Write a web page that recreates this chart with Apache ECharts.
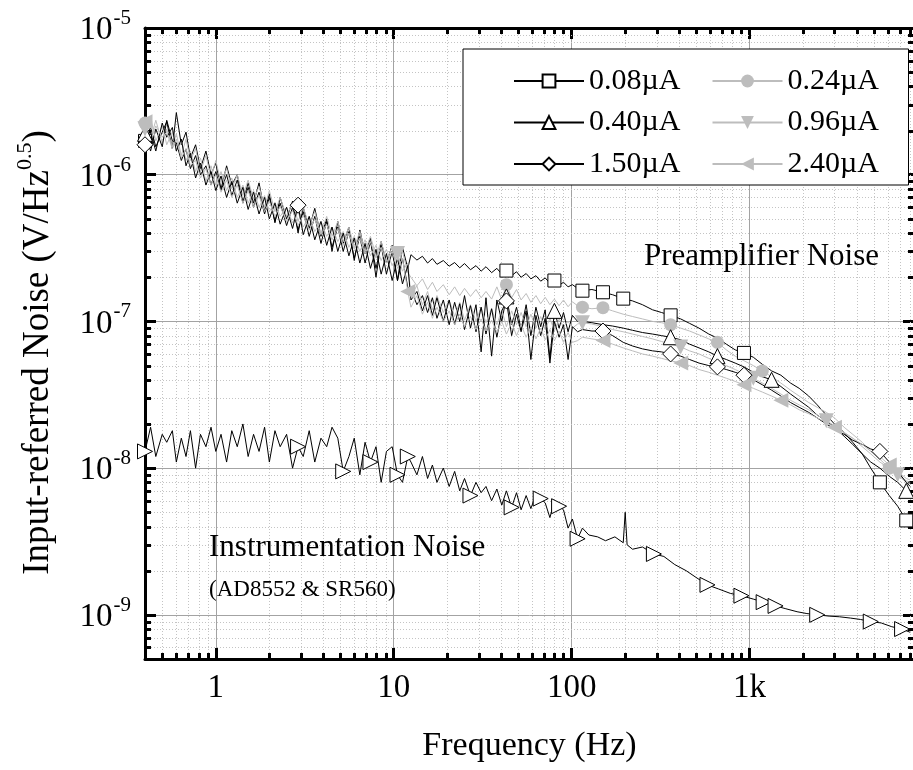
<!DOCTYPE html>
<html><head><meta charset="utf-8">
<script src="https://cdn.jsdelivr.net/npm/echarts@6/dist/echarts.min.js"></script>
<style>html,body{margin:0;padding:0;background:#fff}#c{width:913px;height:770px}</style>
</head><body><div id="c"></div>
<script>
// ---------- data (noise values in nV/Hz^0.5, frequency in Hz) ----------
const freqPre = [
 0.4,0.43,0.46,0.5,0.53,0.57,0.6,0.64,0.68,0.72,
 0.77,0.82,0.88,0.94,1.0,1.07,1.15,1.23,1.32,1.42,
 1.52,1.63,1.75,1.88,2.0,2.15,2.3,2.5,2.7,2.9,
 3.1,3.35,3.6,3.9,4.2,4.5,4.85,5.2,5.6,6.0,
 6.45,6.9,7.4,7.95,8.5,9.1,9.8,10.5,11.2,12.0,
 12.5,13.5,14.5,15.5,16.5,17.5,19,20.5,22,23.5,
 25,27,29,31,33,35.5,38,40.5,43,46,
 49,52,55.5,59,63,67,71,75.5,80,85,
 90,95.5,101,108,
 115,130,150,170,195,220,250,285,320,360,
 410,460,520,590,660,740,830,930,1050,1180,
 1330,1500,1700,1900,2150,2400,2700,3000,3400,3800,
 4300,4800,5400,6100,6800,7600,8000];

const n008 = [
 1700,2100,1550,1950,2300,1500,2650,1600,1950,1300,
 1600,1100,1450,1000,1200,800,1150,850,1000,650,
 880,640,880,560,740,470,700,500,660,400,
 600,430,590,380,500,300,480,340,440,260,
 420,290,370,200,350,250,330,190,320,230,
 285,262,278,250,268,245,260,238,252,232,
 248,225,240,220,236,215,230,210,222,205,
 218,200,212,195,205,188,198,182,190,176,
 185,172,178,168,
 162,165,158,152,143,138,130,120,115,110,
 104,97,90,82,77,70,64,61,57,51,
 46,43,38,35,31,27,23,20,17.5,15,
 12.5,10,8,6.5,5.5,4.4,4.3];

const n024 = [
 2250,1750,2350,1650,2050,1550,1900,1350,1750,1250,
 1500,1050,1350,950,1250,880,1100,800,1000,720,
 920,680,830,600,780,560,700,520,650,480,
 600,450,560,400,520,380,480,350,440,320,
 410,300,380,280,350,260,320,240,300,215,
 200,175,195,165,185,160,178,152,172,150,
 168,148,165,145,160,142,172,140,178,145,
 165,140,155,135,150,132,146,130,142,128,
 140,126,136,128,
 125,122,124,118,112,108,104,100,98,95,
 90,86,81,76,72,64,58,54,50,46,
 42,38,34,31,28,26,24,22,19,17,
 15,13,11.5,10,9,8.2,8];

const n040 = [
 1900,1450,2050,1550,2350,1700,1650,1250,1500,1100,
 1350,1000,1150,850,1050,780,1000,720,920,640,
 820,600,760,540,700,480,640,450,600,420,
 560,380,520,340,480,320,440,300,410,270,
 380,250,350,230,330,210,300,190,270,170,
 165,130,150,115,145,105,140,95,135,100,
 150,90,130,62,145,58,140,100,148,95,
 125,88,130,80,125,92,120,56,118,90,
 115,85,110,100,
 100,98,95,93,90,87,84,82,80,78,
 75,70,66,62,58,55,52,49,45,42,
 40,36,32,29,26,23,21,19,16.5,14.5,
 12.5,11,10,8.8,8,7,7];

const n096 = [
 2050,2450,1700,2150,1600,1950,1450,1700,1250,1450,
 1050,1300,900,1150,850,1050,780,950,700,850,
 640,780,600,720,560,650,520,600,470,560,
 440,520,410,480,380,440,350,410,320,380,
 300,360,280,330,260,310,240,290,220,250,
 150,175,130,160,120,150,115,140,108,135,
 102,130,100,125,98,122,95,120,92,118,
 95,115,92,112,90,108,88,105,86,104,
 92,100,90,96,
 98,96,92,88,85,82,79,76,73,70,
 67,63,60,56,53,50,47,44,41,38,
 35,32,29,27,25,23,21,19.5,17.5,16,
 14,12.5,11,10,9,8,7.8];

const n150 = [
 1600,1950,1450,2250,1800,2100,1450,1750,1150,1400,
 950,1200,850,1050,780,980,700,900,640,820,
 580,760,540,700,500,640,460,600,430,620,
 390,520,360,480,330,440,300,400,280,370,
 250,340,230,310,210,290,190,270,180,240,
 140,160,118,150,110,145,100,140,95,132,
 88,128,85,125,82,122,78,118,138,80,
 112,85,118,55,110,80,105,52,100,78,
 95,55,92,85,
 88,86,86,80,72,68,65,63,62,60,
 58,55,52,50,49,47,45,43,40,37,
 34,31,28,26,24,22,20,18.5,17,15.5,
 14.5,13.5,13,11,9.5,8,7.5];

const n240 = [
 2300,1700,2150,1800,1950,1500,1750,1300,1500,1150,
 1250,950,1100,850,1000,760,920,700,850,640,
 780,600,720,560,660,520,610,480,570,450,
 530,420,500,390,460,360,430,330,400,310,
 370,290,350,270,320,250,300,230,270,160,
 125,150,112,135,105,125,100,118,95,112,
 92,108,88,104,86,102,84,100,82,98,
 80,95,78,92,76,90,75,88,74,86,
 72,84,72,74,
 78,76,74,70,66,63,60,58,56,54,
 52,50,47,45,43,41,39,37,35,33,
 31,29,27,25,23.5,22,20.5,19,17.5,16,
 14.5,13,12,10.5,9.5,8.5,8.3];

const freqInst = [
 0.4,0.43,0.46,0.5,0.53,0.57,0.6,0.64,0.68,0.72,
 0.77,0.82,0.88,0.94,1.0,1.07,1.15,1.23,1.32,1.42,
 1.52,1.63,1.75,1.88,2.0,2.15,2.3,2.5,2.7,2.9,
 3.1,3.35,3.6,3.9,4.2,4.5,4.85,5.2,5.6,6.0,
 6.45,6.9,7.4,7.95,8.5,9.1,9.8,10.5,11.2,12.0,
 12.5,13.5,14.5,15.5,16.5,17.5,19,20.5,22,23.5,
 25,27,29,31,33,35.5,38,40.5,43,46,
 49,52,55.5,59,63,67,71,75.5,80,85,
 90,95.5,101,108,
 115,125,140,155,175,195,200,205,220,250,
 290,330,380,440,500,580,670,780,900,1050,
 1200,1400,1600,1850,2100,2400,2800,3200,3700,4200,
 4800,5500,6300,7200,8000];

const nInst = [
 13,19,12,17,15,18,11,16,12,18,
 10,17,14,19,13,17,11,18,14,20,
 12,17,13,19,11,18,14,17,10,14,
 12,18,11,16,14,19,16,9.5,12,16,
 9,15,11,14,8,13,14,9,8,12,
 11,9,12,8.5,10.5,8,10,7.5,9.5,7,
 8.5,6.5,8,6.8,7.5,6,7.2,5.6,7,5.4,
 6.8,5.2,6.5,5.3,6.6,6.2,5.8,4.6,6,5.5,
 5.2,3.9,4.5,3.3,
 3.9,3.5,3.4,3.2,3.4,3.1,5,3.0,2.8,2.9,
 2.6,2.5,2.2,2.0,1.8,1.6,1.5,1.4,1.35,1.28,
 1.22,1.15,1.1,1.05,1.02,1.0,0.98,0.97,0.95,0.93,
 0.9,0.88,0.83,0.8,0.76];

// frequencies at which markers are drawn
const mk008 = [0.4,43,80,115,150,195,360,930,5400,7600];
const mk024 = [0.4,43,115,150,360,660,1180,6100];
const mk040 = [0.4,43,80,360,660,1330,7600];
const mk096 = [0.4,10.5,115,410,1050,2700,6800];
const mk150 = [0.4,2.9,43,150,360,660,930,5400];
const mk240 = [0.4,12.0,150,410,930,1500,3000,6100];
const mkInst = [0.4,2.9,5.2,7.4,10.5,12.0,27,46,67,85,108,290,580,900,1200,1400,2400,4800,7200];

const seriesNames = ['0.08µA','0.24µA','0.40µA','0.96µA','1.50µA','2.40µA'];
const xTickText = {'0':'1','1':'10','2':'100','3':'1k'};
const mantissas = [2,3,4,5,6,7,8,9];
const xMinor = [0.5,0.6,0.7,0.8,0.9];
[1,10,100,1000].forEach(d => mantissas.forEach(m => { if (m*d <= 8400) xMinor.push(m*d); }));
const yMinor = [6e-10,7e-10,8e-10,9e-10];
[1e-9,1e-8,1e-7,1e-6].forEach(d => mantissas.forEach(m => yMinor.push(m*d)));

// ---------- chart ----------
const FONT = '"Liberation Serif","Times New Roman",serif';
const GRAY = '#bdbdbd';
const XMIN = 0.4, XMAX = 8400, YMIN = 5e-10, YMAX = 1e-5;

function preSeries(name, freq, vals, marks, symbol, rotate, size, hollow) {
  const mk = new Set(marks);
  const col = hollow ? '#000' : GRAY;
  return {
    name: name, type: 'line', xAxisIndex: 0, yAxisIndex: 0,
    data: freq.map((f, i) => [f, vals[i] * 1e-9]),
    symbol: symbol, symbolRotate: rotate, showSymbol: true,
    symbolSize: (v, p) => mk.has(freq[p.dataIndex]) ? size : 0,
    lineStyle: {color: col, width: 1},
    itemStyle: hollow ? {color: '#fff', borderColor: '#000', borderWidth: 1} : {color: GRAY, borderWidth: 0},
    emphasis: {disabled: true}, silent: true, z: 3, clip: true
  };
}

function minorX(params, api) {
  const cs = params.coordSys;
  const x = Math.round(api.coord([api.value(0), 1e-7])[0]) + 0.5;
  const y0 = cs.y, y1 = cs.y + cs.height;
  return {type: 'group', children: [
    {type: 'line', shape: {x1: x, y1: y0, x2: x, y2: y1}, style: {stroke: '#c4c4c4', lineWidth: 1, lineDash: [1, 2]}},
    {type: 'line', shape: {x1: x, y1: y1, x2: x, y2: y1 - 6}, style: {stroke: '#000', lineWidth: 3}},
    {type: 'line', shape: {x1: x, y1: y0, x2: x, y2: y0 + 6}, style: {stroke: '#000', lineWidth: 3}}
  ]};
}
function minorY(params, api) {
  const cs = params.coordSys;
  const y = Math.round(api.coord([1, api.value(1)])[1]) + 0.5;
  const x0 = cs.x, x1 = cs.x + cs.width;
  return {type: 'group', children: [
    {type: 'line', shape: {x1: x0, y1: y, x2: x1, y2: y}, style: {stroke: '#c4c4c4', lineWidth: 1, lineDash: [1, 2]}},
    {type: 'line', shape: {x1: x0, y1: y, x2: x0 + 6, y2: y}, style: {stroke: '#000', lineWidth: 3}},
    {type: 'line', shape: {x1: x1, y1: y, x2: x1 - 6, y2: y}, style: {stroke: '#000', lineWidth: 3}}
  ]};
}

function isDecade(v) { const e = Math.log10(v); return Math.abs(e - Math.round(e)) < 1e-6; }

const axisLineStyle = {color: '#000', width: 3};
const majorTick = {show: true, inside: true, length: 11, lineStyle: {color: '#000', width: 3}};

const option = {
  animation: false,
  backgroundColor: '#fff',
  grid: {left: 145, right: -1, top: 28, bottom: 111, containLabel: false, outerBoundsMode: 'none'},
  xAxis: [{
    type: 'log', logBase: 10, min: XMIN, max: XMAX,
    axisLine: {show: true, onZero: false, lineStyle: axisLineStyle},
    axisTick: majorTick,
    axisLabel: {show: true, fontFamily: FONT, fontSize: 33, color: '#000', margin: 13,
      showMinLabel: false, showMaxLabel: false,
      formatter: v => isDecade(v) ? (xTickText[String(Math.round(Math.log10(v)))] || '') : ''},
    splitLine: {show: true, lineStyle: {color: '#a3a3a3', width: 1}},
    name: 'Frequency (Hz)', nameLocation: 'middle', nameGap: 70,
    nameTextStyle: {fontFamily: FONT, fontSize: 34, color: '#000'}
  }, {
    type: 'log', logBase: 10, min: XMIN, max: XMAX, position: 'top',
    axisLine: {show: true, onZero: false, lineStyle: axisLineStyle},
    axisTick: majorTick, axisLabel: {show: false}, splitLine: {show: false}
  }],
  yAxis: [{
    type: 'log', logBase: 10, min: YMIN, max: YMAX,
    axisLine: {show: true, onZero: false, lineStyle: axisLineStyle},
    axisTick: majorTick,
    axisLabel: {show: true, margin: 14, showMinLabel: false,
      formatter: v => isDecade(v) ? '{b|10}{s|' + Math.round(Math.log10(v)) + '}' : '',
      rich: {
        b: {fontFamily: FONT, fontSize: 33, color: '#000', lineHeight: 38, verticalAlign: 'bottom'},
        s: {fontFamily: FONT, fontSize: 21, color: '#000', lineHeight: 21, verticalAlign: 'bottom', padding: [0, 0, 18, 1]}
      }},
    splitLine: {show: true, lineStyle: {color: '#a3a3a3', width: 1}},
    name: '{a|Input-referred Noise (V/Hz}{s|0.5}{a|)}', nameLocation: 'middle', nameGap: 88,
    nameTextStyle: {padding: [0, 18, 0, 0], rich: {
      a: {fontFamily: FONT, fontSize: 37, color: '#000', lineHeight: 41, verticalAlign: 'bottom'},
      s: {fontFamily: FONT, fontSize: 22, color: '#000', lineHeight: 22, verticalAlign: 'bottom', padding: [0, 0, 21, 0]}
    }}
  }, {
    type: 'log', logBase: 10, min: YMIN, max: YMAX, position: 'right',
    axisLine: {show: true, onZero: false, lineStyle: axisLineStyle},
    axisTick: majorTick, axisLabel: {show: false}, splitLine: {show: false}
  }],
  legend: {
    data: seriesNames.map(n => ({name: n})),
    left: 463, top: 49, width: 392, orient: 'horizontal',
    padding: [17, 10, 6, 50], itemGap: 11.5, itemWidth: 70, itemHeight: 16,
    backgroundColor: '#fff', borderColor: '#000', borderWidth: 1, borderRadius: 0,
    textStyle: {fontFamily: FONT, fontSize: 30, color: '#000', width: 111, lineHeight: 28},
    selectedMode: false
  },
  graphic: [
    {type: 'text', left: 644, top: 241, z: 100, style: {text: 'Preamplifier Noise', font: '31px "Liberation Serif"', fill: '#000'}},
    {type: 'text', left: 209, top: 532, z: 100, style: {text: 'Instrumentation Noise', font: '31px "Liberation Serif"', fill: '#000'}},
    {type: 'text', left: 209, top: 578, z: 100, style: {text: '(AD8552 & SR560)', font: '23px "Liberation Serif"', fill: '#000'}}
  ],
  series: [
    {type: 'custom', renderItem: minorX, data: xMinor.map(v => [v, 1e-7]), silent: true, z: 1, clip: false},
    {type: 'custom', renderItem: minorY, data: yMinor.map(v => [1, v]), silent: true, z: 1, clip: false},
    preSeries(seriesNames[0], freqPre, n008, mk008, 'rect', 0, 13, true),
    preSeries(seriesNames[1], freqPre, n024, mk024, 'circle', 0, 13, false),
    preSeries(seriesNames[2], freqPre, n040, mk040, 'triangle', 0, 15, true),
    preSeries(seriesNames[3], freqPre, n096, mk096, 'triangle', 180, 15, false),
    preSeries(seriesNames[4], freqPre, n150, mk150, 'diamond', 0, 16, true),
    preSeries(seriesNames[5], freqPre, n240, mk240, 'triangle', 90, 15, false),
    preSeries('Instrumentation', freqInst, nInst, mkInst, 'triangle', -90, 15, true)
  ]
};

const chart = echarts.init(document.getElementById('c'), null, {renderer: 'canvas'});
chart.setOption(option);
</script>
</body></html>
